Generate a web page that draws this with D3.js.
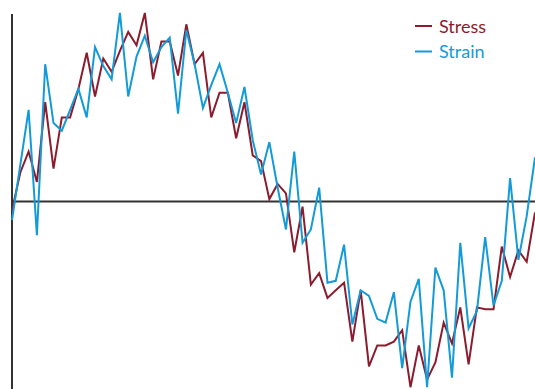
<!DOCTYPE html>
<html>
<head>
<meta charset="utf-8">
<script src="https://cdn.jsdelivr.net/npm/d3@7/dist/d3.min.js"></script>
<style>
  html, body { margin: 0; padding: 0; background: #fff; }
  svg { display: block; }
</style>
</head>
<body>
<svg id="chart" width="535" height="389"></svg>
<script>
// Sampled signals (arbitrary units, zero = rest level)
const stress = [
  -5, 15, 26, 10, 52, 17, 44, 44, 59, 78,
  55, 75, 68, 79, 89, 82, 99, 64, 84, 84,
  66, 93, 72, 78, 44, 57, 57, 33, 52, 24,
  21, 1, 9, 4, -27, -3, -44, -38, -51, -47,
  -43, -74, -47, -87, -76, -76, -74, -68, -98, -76,
  -94, -85, -64, -75, -56, -86, -56, -57, -57, -24,
  -40, -26, -32, -6
];
const strain = [
  -10, 19, 48, -18, 72, 41, 37, 48, 59, 44,
  81, 71, 64, 99, 55, 76, 87, 73, 81, 86,
  46, 90, 72, 49, 61, 72, 57, 41, 60, 32,
  14, 31, 7, -15, 26, -22, -15, 7, -43, -42,
  -23, -65, -47, -50, -62, -64, -48, -88, -53, -41,
  -98, -35, -47, -93, -22, -67, -58, -19, -55, -42,
  12, -31, -8, 23
];
const seriesNames = ["Stress", "Strain"];
const seriesColors = ["#8b1c2e", "#139bd8"];

const W = 535, H = 389;
const svg = d3.select("#chart");

const x = d3.scaleLinear().domain([0, stress.length - 1]).range([12, 535]);
const y = d3.scaleLinear().domain([-100, 100]).range([391, 11]);

// Zero baseline
svg.append("g")
  .attr("transform", `translate(0,${y(0)})`)
  .call(d3.axisBottom(x).tickValues([]).tickSizeOuter(0))
  .call(g => g.select(".domain").attr("stroke", "#333").attr("stroke-width", 2));

// Left axis rule
svg.append("line")
  .attr("x1", x(0)).attr("x2", x(0))
  .attr("y1", 14).attr("y2", H)
  .attr("stroke", "#333").attr("stroke-width", 2);

const line = d3.line()
  .x((d, i) => x(i))
  .y(d => y(d));

[stress, strain].forEach((s, i) => {
  svg.append("path")
    .datum(s)
    .attr("fill", "none")
    .attr("stroke", seriesColors[i])
    .attr("stroke-width", 2)
    .attr("d", line);
});

// Legend
const legend = svg.append("g").attr("transform", "translate(415,26)");
seriesNames.forEach((name, i) => {
  const g = legend.append("g").attr("transform", `translate(0,${i * 25.5})`);
  g.append("line")
    .attr("x1", 0).attr("x2", 17)
    .attr("stroke", seriesColors[i]).attr("stroke-width", 2);
  g.append("text")
    .attr("x", 24).attr("y", 6.5)
    .attr("fill", seriesColors[i])
    .attr("font-family", "Lato, 'DejaVu Sans', sans-serif")
    .attr("font-size", 18)
    .text(name);
});
</script>
</body>
</html>
